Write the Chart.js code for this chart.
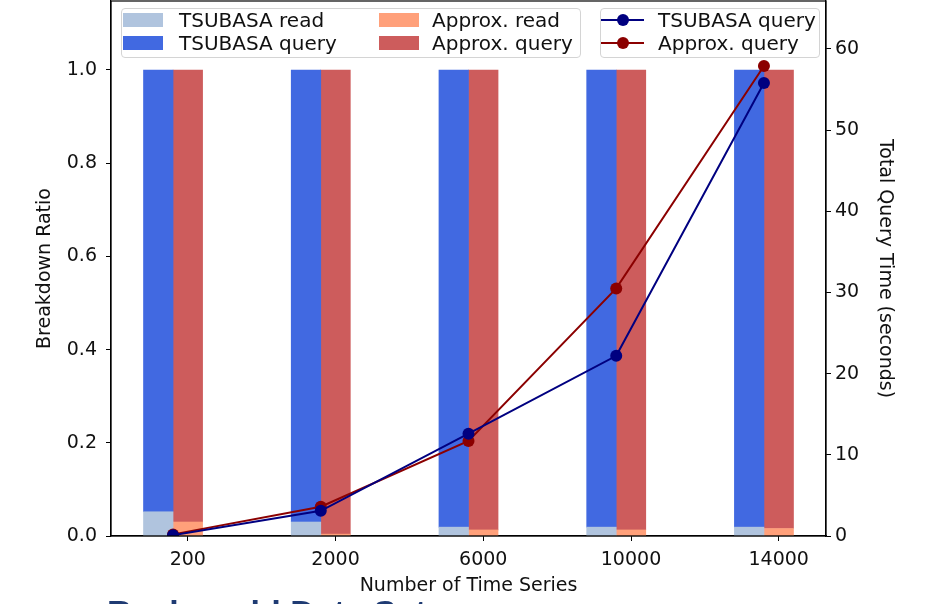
<!DOCTYPE html>
<html lang="en">
<head>
  <meta charset="UTF-8">
  <meta name="viewport" content="width=device-width, initial-scale=1.0">
  <title>Breakdown Ratio</title>
  <style>
    html, body { margin: 0; padding: 0; background: #fff; overflow: hidden; }
    #wrap { position: relative; width: 932px; height: 604px; overflow: hidden; font-family: "DejaVu Sans", sans-serif; }
    /* Chart.js keeps ~5px above the plot area, so the canvas is lifted by that much */
    #chart { position: absolute; left: 0; top: -5px; }
    .legend { position: absolute; top: 8px; height: 48px; border: 1px solid #d4d4d4; border-radius: 4px; background: rgba(255,255,255,0.85); }
    .patch { position: absolute; width: 40px; height: 14px; }
    .txt { position: absolute; font-size: 20px; line-height: 22px; color: #111; white-space: nowrap; }
    .hline { position: absolute; width: 43px; height: 2px; }
    .dot { position: absolute; width: 12px; height: 12px; border-radius: 50%; }
    #footer { position: absolute; left: 107px; top: 595px; font-family: "Liberation Sans", sans-serif; font-weight: bold; font-size: 34px; line-height: 34px; color: #1f3b73; white-space: nowrap; }
  </style>
</head>
<body>
  <div id="wrap">
    <canvas id="chart" width="932" height="609"></canvas>
    <div class="legend" id="barLegend" style="left:121px; width:458px;"></div>
    <div class="legend" id="lineLegend" style="left:600px; width:218px;"></div>
    <div id="footer">Real-world Data Sets</div>
  </div>
  <script src="https://cdn.jsdelivr.net/npm/chart.js"></script>
  <script>
    // values
    const sizes = ["200", "2000", "6000", "10000", "14000"];
    const tsubasaRead = [0.052, 0.030, 0.019, 0.019, 0.019];
    const tsubasaQuery = [0.948, 0.970, 0.981, 0.981, 0.981];
    const approxRead = [0.030, 0.004, 0.013, 0.013, 0.016];
    const approxQuery = [0.970, 0.996, 0.987, 0.987, 0.984];
    const tsubasaTime = [0.1, 3.1, 12.6, 22.2, 55.8];
    const approxTime = [0.2, 3.6, 11.7, 30.5, 57.9];
    const ratioTicks = [0, 0.2, 0.4, 0.6, 0.8, 1.0];
    const timeTicks = [0, 10, 20, 30, 40, 50, 60];

    const FONT = "DejaVu Sans";
    const TEXT = "#111";

    const barSeries = [
      { label: "TSUBASA read", data: tsubasaRead, color: "#b0c4de", stack: "ts", shift: -0.2 },
      { label: "TSUBASA query", data: tsubasaQuery, color: "#4169e1", stack: "ts", shift: -0.2 },
      { label: "Approx. read", data: approxRead, color: "#ffa07a", stack: "ap", shift: 0 },
      { label: "Approx. query", data: approxQuery, color: "#cd5c5c", stack: "ap", shift: 0 },
    ];
    const lineSeries = [
      { label: "TSUBASA query", data: tsubasaTime, color: "#000080" },
      { label: "Approx. query", data: approxTime, color: "#8b0000" },
    ];

    const datasets = [];
    barSeries.forEach((s) => {
      datasets.push({
        type: "bar",
        label: s.label,
        data: s.data.map((v, i) => ({ x: i + s.shift, y: v })),
        backgroundColor: s.color,
        stack: s.stack,
        grouped: false,
        categoryPercentage: 1,
        barPercentage: 1,
        borderWidth: 0,
        yAxisID: "y",
        order: 2,
      });
    });
    lineSeries.forEach((s) => {
      datasets.push({
        type: "line",
        label: s.label,
        data: s.data.map((v, i) => ({ x: i - 0.1, y: v })),
        borderColor: s.color,
        backgroundColor: s.color,
        borderWidth: 2,
        pointRadius: 6,
        pointBorderWidth: 0,
        pointBackgroundColor: s.color,
        tension: 0,
        yAxisID: "y2",
        order: 1,
      });
    });

    // build the two legends from the series
    const barLegend = document.getElementById("barLegend");
    barSeries.forEach((s, k) => {
      const col = Math.floor(k / 2), row = k % 2;
      const p = document.createElement("div");
      p.className = "patch";
      p.style.left = (1 + col * 256) + "px";
      p.style.top = (4 + row * 23) + "px";
      p.style.background = s.color;
      const t = document.createElement("div");
      t.className = "txt";
      t.style.left = (57 + col * 253) + "px";
      t.style.top = (0 + row * 23) + "px";
      t.textContent = s.label;
      barLegend.append(p, t);
    });
    const lineLegend = document.getElementById("lineLegend");
    lineSeries.forEach((s, row) => {
      const l = document.createElement("div");
      l.className = "hline";
      l.style.left = "0px";
      l.style.top = (10 + row * 23) + "px";
      l.style.background = s.color;
      const d = document.createElement("div");
      d.className = "dot";
      d.style.left = "16px";
      d.style.top = (5 + row * 23) + "px";
      d.style.background = s.color;
      const t = document.createElement("div");
      t.className = "txt";
      t.style.left = "57px";
      t.style.top = (0 + row * 23) + "px";
      t.textContent = s.label;
      lineLegend.append(l, d, t);
    });

    const frame = {
      id: "frame",
      afterDraw(chart) {
        const { ctx, chartArea: a } = chart;
        ctx.save();
        ctx.strokeStyle = "#000";
        ctx.lineWidth = 1.2;
        ctx.strokeRect(a.left, a.top, a.right - a.left, a.bottom - a.top);
        ctx.restore();
      },
    };

    const tickGrid = { display: true, drawOnChartArea: false, drawTicks: true, tickLength: 5, color: "#000", tickWidth: 1, offset: false };
    const noPad = (s) => { s.paddingTop = 0; s.paddingBottom = 0; s.paddingLeft = 0; s.paddingRight = 0; };

    new Chart(document.getElementById("chart"), {
      data: { datasets },
      options: {
        responsive: false,
        animation: false,
        layout: { padding: { top: 1, left: 0, right: 0, bottom: 0 } },
        plugins: { legend: { display: false }, tooltip: { enabled: false } },
        scales: {
          x: {
            type: "linear",
            offset: false,
            min: -0.52,
            max: 4.32,
            grid: tickGrid,
            border: { display: true, color: "#000", width: 1.2 },
            afterBuildTicks: (s) => { s.ticks = sizes.map((_, i) => ({ value: i })); },
            afterFit: (s) => { s.height = 68; noPad(s); },
            ticks: {
              padding: 8,
              color: TEXT,
              font: { family: FONT, size: 19 },
              callback: (v) => sizes[v],
              maxRotation: 0,
              autoSkip: false,
            },
            title: {
              display: true,
              text: "Number of Time Series",
              color: TEXT,
              font: { family: FONT, size: 19 },
              padding: { bottom: 7 },
            },
          },
          y: {
            position: "left",
            stacked: true,
            min: 0,
            max: 1.148,
            grid: tickGrid,
            border: { display: true, color: "#000", width: 1.2 },
            afterBuildTicks: (s) => { s.ticks = ratioTicks.map((v) => ({ value: v })); },
            afterFit: (s) => { s.width = 111; noPad(s); },
            ticks: {
              padding: 9,
              color: TEXT,
              font: { family: FONT, size: 19 },
              callback: (v) => v.toFixed(1),
            },
            title: {
              display: true,
              text: "Breakdown Ratio",
              color: TEXT,
              font: { family: FONT, size: 19 },
              padding: { top: 34 },
            },
          },
          y2: {
            position: "right",
            min: 0,
            max: 65.9,
            grid: tickGrid,
            border: { display: true, color: "#000", width: 1.2 },
            afterBuildTicks: (s) => { s.ticks = timeTicks.map((v) => ({ value: v })); },
            afterFit: (s) => { s.width = 106; noPad(s); },
            ticks: {
              padding: 4,
              color: TEXT,
              font: { family: FONT, size: 19 },
            },
            title: {
              display: true,
              text: "Total Query Time (seconds)",
              color: TEXT,
              font: { family: FONT, size: 19 },
              padding: { top: 36 },
            },
          },
        },
      },
      plugins: [frame],
    });
  </script>
</body>
</html>
